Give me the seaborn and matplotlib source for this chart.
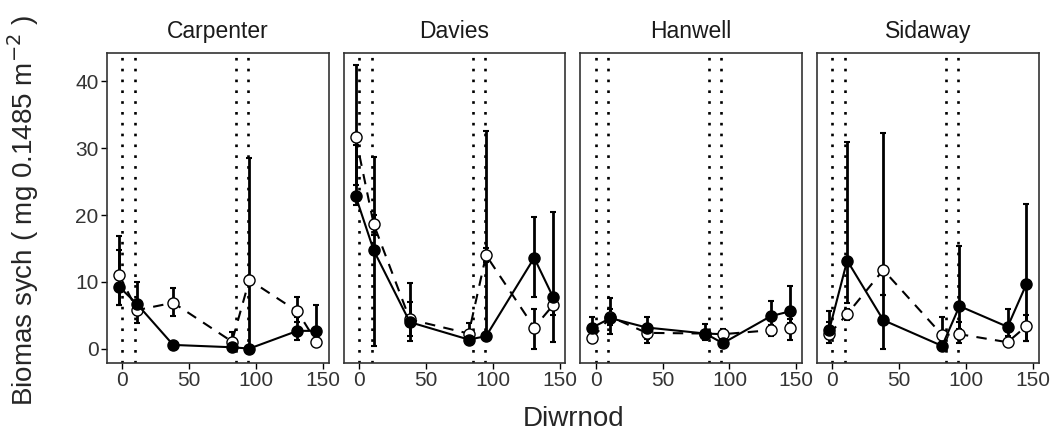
import matplotlib
matplotlib.use("Agg")
import matplotlib.pyplot as plt
import seaborn as sns
import pandas as pd

sites = ["Carpenter", "Davies", "Hanwell", "Sidaway"]
days = [-2.5, 11, 38, 82, 95, 131, 145]
vlines = [0, 9.5, 85, 94]
xticks = [0, 50, 100, 150]
yticks = [0, 10, 20, 30, 40]

# filled series (solid line)
black_mean = {
    "Carpenter": [9.3, 6.7, 0.6, 0.25, 0.05, 2.7, 2.7],
    "Davies":    [22.8, 14.7, 4.0, 1.4, 1.9, 13.6, 7.8],
    "Hanwell":   [3.2, 4.6, 3.2, 2.3, 0.85, 4.9, 5.6],
    "Sidaway":   [2.8, 13.2, 4.3, 0.45, 6.4, 3.3, 9.65],
}
black_lo = {
    "Carpenter": [6.5, 3.8, 0.6, 0.25, 0.05, 1.3, 1.1],
    "Davies":    [21.5, 0.45, 1.2, 1.0, 1.5, 7.8, 1.0],
    "Hanwell":   [2.5, 2.3, 0.85, 1.3, 0.5, 3.5, 3.8],
    "Sidaway":   [1.5, 6.8, 0.0, 0.3, 3.0, 2.0, 1.2],
}
black_hi = {
    "Carpenter": [14.8, 10.0, 0.6, 0.25, 28.5, 4.8, 6.5],
    "Davies":    [30.4, 28.7, 9.9, 1.8, 32.5, 19.75, 20.4],
    "Hanwell":   [4.7, 7.6, 4.7, 3.7, 1.2, 7.2, 9.4],
    "Sidaway":   [4.0, 30.9, 8.0, 0.6, 15.3, 5.9, 21.7],
}
# open series (dashed line)
open_mean = {
    "Carpenter": [11.1, 5.8, 6.9, 1.1, 10.3, 5.6, 1.1],
    "Davies":    [31.6, 18.6, 4.4, 2.3, 14.0, 3.2, 6.5],
    "Hanwell":   [1.6, 4.8, 2.4, 2.3, 2.2, 2.8, 3.1],
    "Sidaway":   [2.2, 5.2, 11.8, 2.1, 2.2, 1.0, 3.4],
}
open_lo = {
    "Carpenter": [6.5, 5.0, 4.9, 0.5, 10.3, 4.0, 1.1],
    "Davies":    [24.5, 17.0, 2.0, 1.5, 13.0, 0.0, 5.0],
    "Hanwell":   [1.0, 3.5, 1.5, 1.8, 1.5, 2.0, 1.3],
    "Sidaway":   [0.85, 4.3, 8.0, 1.0, 0.85, 0.7, 1.2],
}
open_hi = {
    "Carpenter": [16.9, 6.5, 9.1, 2.6, 10.3, 7.7, 1.1],
    "Davies":    [42.4, 20.0, 7.0, 3.8, 15.0, 6.0, 8.0],
    "Hanwell":   [2.5, 6.0, 3.5, 2.8, 3.0, 3.6, 4.5],
    "Sidaway":   [5.6, 6.0, 32.3, 4.8, 4.0, 1.3, 5.0],
}

sns.set_theme(style="ticks")
plt.rcParams["font.family"] = ["Liberation Sans", "DejaVu Sans"]

fig, axes = plt.subplots(1, 4, figsize=(10.55, 4.34), dpi=100, sharey=True)
fig.subplots_adjust(left=0.1014, right=0.9846, bottom=0.1636, top=0.878, wspace=0.068)

for ax, site in zip(axes, sites):
    for v in vlines:
        ax.axvline(v, color="black", linestyle=(0, (1, 3.1)), linewidth=1.9, zorder=1)
    df_o = pd.DataFrame({"day": days, "val": open_mean[site]})
    df_b = pd.DataFrame({"day": days, "val": black_mean[site]})
    for mean, lo, hi in ((open_mean[site], open_lo[site], open_hi[site]),
                         (black_mean[site], black_lo[site], black_hi[site])):
        yerr = [[max(m - l, 0) for m, l in zip(mean, lo)],
                [max(h - m, 0) for m, h in zip(mean, hi)]]
        ax.errorbar(days, mean, yerr=yerr, fmt="none", ecolor="black",
                    elinewidth=2.0, capsize=2, capthick=1.5, zorder=2)
    sns.lineplot(data=df_o, x="day", y="val", ax=ax, color="black",
                 linestyle=(0, (5, 4)), linewidth=1.5, sort=False,
                 marker="o", markersize=8, markerfacecolor="white",
                 markeredgecolor="black", markeredgewidth=1.0, zorder=3)
    sns.lineplot(data=df_b, x="day", y="val", ax=ax, color="black",
                 linestyle="-", linewidth=1.5, sort=False,
                 marker="o", markersize=8, markerfacecolor="black",
                 markeredgecolor="black", markeredgewidth=1.0, zorder=4)
    ax.set_xlim(-11.5, 154.3)
    ax.set_ylim(-2.1, 44.2)
    ax.set_xticks(xticks)
    ax.set_yticks(yticks)
    ax.set_xlabel("")
    ax.set_ylabel("")
    ax.set_title(site, fontsize=16.5, pad=10.5, color="#1a1a1a")
    ax.tick_params(axis="both", labelsize=15, length=4, width=1, color="black",
                   labelcolor="#333333", pad=2)
    for s in ax.spines.values():
        s.set_visible(True)
        s.set_color("#333333")
        s.set_linewidth(1.2)
    if ax is not axes[0]:
        ax.tick_params(axis="y", left=False, labelleft=False)

fig.text(0.544, 0.035, "Diwrnod", fontsize=20, ha="center", va="center")
fig.text(0.022, 0.516, "Biomas sych ( mg 0.1485 m$^{-2}$ )", fontsize=20,
         rotation=90, ha="center", va="center")

fig.savefig("out.png", dpi=100)
